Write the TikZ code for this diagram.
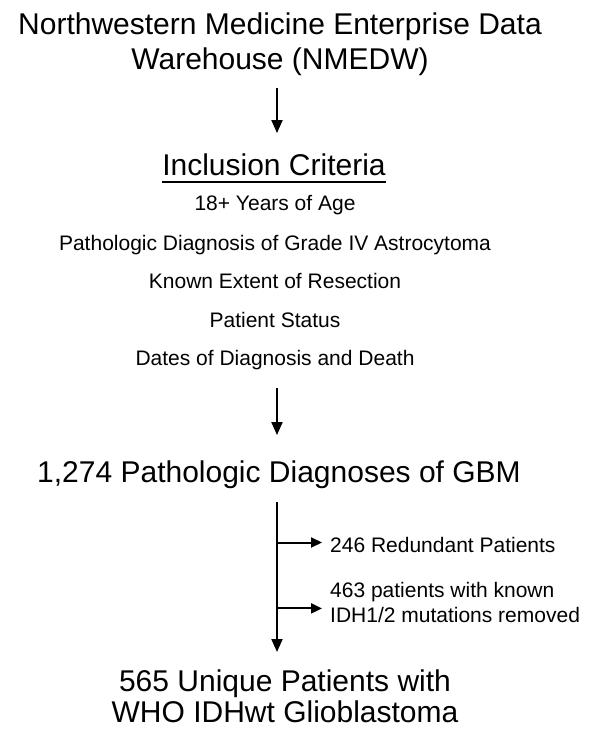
\documentclass[tikz,border=0pt]{standalone}
\usepackage{fontspec}
\setmainfont{Liberation Sans}
\usetikzlibrary{arrows.meta,calc}
\begin{document}
\begin{tikzpicture}[x=1pt,y=-1pt,
  big/.style={font=\fontsize{30}{35}\selectfont, inner sep=0pt, align=center},
  crit/.style={font=\fontsize{21}{25}\selectfont, inner sep=0pt},
  side/.style={font=\fontsize{21}{25}\selectfont, inner sep=0pt, align=left},
  arr/.style={line width=2pt, -{Triangle[length=13pt,width=11pt]}},
  barr/.style={line width=2pt, -{Triangle[length=11pt,width=10pt]}},
]
\path[use as bounding box, fill=white] (0,0) rectangle (596,733);
\coordinate (ax) at (277,0);
\node[big, anchor=north] (nmedw) at (280,13) {Northwestern Medicine Enterprise Data\\Warehouse (NMEDW)};
\node[big, anchor=base] (inc) at (274,175) {Inclusion Criteria};
\draw[line width=1.5pt] ([yshift=-7pt]inc.base west) -- ([yshift=-7pt]inc.base east);
\node[crit, anchor=base] (c1) at (275,210) {18+ Years of Age};
\node[crit, anchor=base] (c2) at (275,250) {Pathologic Diagnosis of Grade IV Astrocytoma};
\node[crit, anchor=base] (c3) at (275,288) {Known Extent of Resection};
\node[crit, anchor=base] (c4) at (275,327) {Patient Status};
\node[crit, anchor=base] (c5) at (275,365) {Dates of Diagnosis and Death};
\node[big, anchor=base] (gbm) at (279,482) {1,274 Pathologic Diagnoses of GBM};
\node[side, anchor=base west] (red) at (330,552) {246 Redundant Patients};
\node[side, anchor=north west] (idh) at (330,582) {463 patients with known\\IDH1/2 mutations removed};
\node[big, anchor=north, font=\fontsize{30}{31}\selectfont] (uniq) at (285,670) {565 Unique Patients with\\WHO IDHwt Glioblastoma};
\draw[arr, shorten <=11.5pt, shorten >=20pt] (nmedw.south -| ax) -- (inc.north -| ax);
\draw[arr, shorten <=18.5pt, shorten >=25pt] (c5.south -| ax) -- (gbm.north -| ax);
\draw[arr, shorten <=14pt, shorten >=18pt] (gbm.south -| ax) -- (uniq.north -| ax);
\draw[barr, shorten >=8pt] ([yshift=2pt]red.west -| ax) -- ([yshift=2pt]red.west);
\draw[barr, shorten >=8pt] ([yshift=-6pt]idh.west -| ax) -- ([yshift=-6pt]idh.west);
\end{tikzpicture}
\end{document}
